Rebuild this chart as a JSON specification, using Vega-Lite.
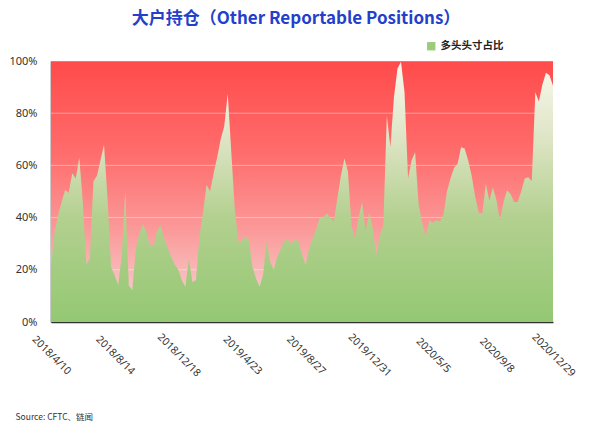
{
  "$schema": "https://vega.github.io/schema/vega-lite/v6.json",
  "width": 502,
  "height": 261,
  "autosize": {"type": "none"},
  "padding": {"left": 51, "top": 61, "right": 47, "bottom": 115},
  "background": "#ffffff",
  "config": {
    "view": {"stroke": null},
    "axis": {"domainColor": "#333333", "domainWidth": 1.5, "ticks": false, "tickSize": 0, "grid": false, "labelColor": "#333333", "labelFont": "Noto Sans"}
  },
  "title": {
    "text": "大户持仓（Other Reportable Positions）",
    "font": "Noto Sans CJK SC",
    "fontSize": 17,
    "fontWeight": "bold",
    "color": "#2440CA",
    "anchor": "middle",
    "offset": 13,
    "dx": -6
  },
  "layer": [
    {
      "data": {"values": [{}]},
      "mark": {
        "type": "rect",
        "fill": {
          "gradient": "linear", "x1": 0, "y1": 0, "x2": 0, "y2": 1,
          "stops": [
            {"offset": 0, "color": "#FF4B4B"},
            {"offset": 0.35, "color": "#FF6C6C"},
            {"offset": 0.65, "color": "#FB9A9A"},
            {"offset": 0.85, "color": "#F8C0C0"},
            {"offset": 1, "color": "#FCE4E4"}
          ]
        }
      },
      "encoding": {
        "y": {"datum": 100, "type": "quantitative", "title": null},
        "y2": {"datum": 0}
      }
    },
    {
      "data": {"values": [{"g": 20}, {"g": 40}, {"g": 60}, {"g": 80}, {"g": 100}]},
      "mark": {"type": "rule", "color": "#ffffff", "opacity": 0.4, "strokeWidth": 1},
      "encoding": {
        "y": {"field": "g", "type": "quantitative", "title": null}
      }
    },
    {
      "data": {
        "values": [
          {"d": "2018/04/10", "v": 21.5}, {"d": "2018/04/17", "v": 34}, {"d": "2018/04/24", "v": 41}, {"d": "2018/05/01", "v": 46},
          {"d": "2018/05/08", "v": 50.6}, {"d": "2018/05/15", "v": 49.5}, {"d": "2018/05/22", "v": 57}, {"d": "2018/05/29", "v": 55},
          {"d": "2018/06/05", "v": 63}, {"d": "2018/06/12", "v": 46}, {"d": "2018/06/19", "v": 22}, {"d": "2018/06/26", "v": 24.5},
          {"d": "2018/07/03", "v": 53.8}, {"d": "2018/07/10", "v": 56}, {"d": "2018/07/17", "v": 62}, {"d": "2018/07/24", "v": 68},
          {"d": "2018/07/31", "v": 47}, {"d": "2018/08/07", "v": 21}, {"d": "2018/08/14", "v": 18}, {"d": "2018/08/21", "v": 14.2},
          {"d": "2018/08/28", "v": 25}, {"d": "2018/09/04", "v": 50}, {"d": "2018/09/11", "v": 14}, {"d": "2018/09/18", "v": 12.3},
          {"d": "2018/09/25", "v": 28}, {"d": "2018/10/02", "v": 34}, {"d": "2018/10/09", "v": 37.5}, {"d": "2018/10/16", "v": 34.6},
          {"d": "2018/10/23", "v": 29.5}, {"d": "2018/10/30", "v": 29}, {"d": "2018/11/06", "v": 35}, {"d": "2018/11/13", "v": 37},
          {"d": "2018/11/20", "v": 32}, {"d": "2018/11/27", "v": 28.5}, {"d": "2018/12/04", "v": 25}, {"d": "2018/12/11", "v": 22},
          {"d": "2018/12/18", "v": 20}, {"d": "2018/12/25", "v": 16}, {"d": "2019/01/01", "v": 13.5}, {"d": "2019/01/08", "v": 24},
          {"d": "2019/01/15", "v": 15.3}, {"d": "2019/01/22", "v": 16}, {"d": "2019/01/29", "v": 33}, {"d": "2019/02/05", "v": 42},
          {"d": "2019/02/12", "v": 52.5}, {"d": "2019/02/19", "v": 50}, {"d": "2019/02/26", "v": 57}, {"d": "2019/03/05", "v": 63},
          {"d": "2019/03/12", "v": 70}, {"d": "2019/03/19", "v": 75}, {"d": "2019/03/26", "v": 87.5}, {"d": "2019/04/02", "v": 65},
          {"d": "2019/04/09", "v": 43}, {"d": "2019/04/16", "v": 31}, {"d": "2019/04/23", "v": 31}, {"d": "2019/04/30", "v": 33},
          {"d": "2019/05/07", "v": 31}, {"d": "2019/05/14", "v": 21}, {"d": "2019/05/21", "v": 16.7}, {"d": "2019/05/28", "v": 13.5},
          {"d": "2019/06/04", "v": 18}, {"d": "2019/06/11", "v": 30.8}, {"d": "2019/06/18", "v": 23}, {"d": "2019/06/25", "v": 20},
          {"d": "2019/07/02", "v": 25}, {"d": "2019/07/09", "v": 28}, {"d": "2019/07/16", "v": 31}, {"d": "2019/07/23", "v": 31.5},
          {"d": "2019/07/30", "v": 30}, {"d": "2019/08/06", "v": 31.5}, {"d": "2019/08/13", "v": 31}, {"d": "2019/08/20", "v": 26},
          {"d": "2019/08/27", "v": 21.8}, {"d": "2019/09/03", "v": 28}, {"d": "2019/09/10", "v": 32}, {"d": "2019/09/17", "v": 35.5},
          {"d": "2019/09/24", "v": 40}, {"d": "2019/10/01", "v": 40}, {"d": "2019/10/08", "v": 41.6}, {"d": "2019/10/15", "v": 40},
          {"d": "2019/10/22", "v": 38.4}, {"d": "2019/10/29", "v": 47.4}, {"d": "2019/11/05", "v": 56}, {"d": "2019/11/12", "v": 62.7},
          {"d": "2019/11/19", "v": 57.6}, {"d": "2019/11/26", "v": 37}, {"d": "2019/12/03", "v": 32}, {"d": "2019/12/10", "v": 40},
          {"d": "2019/12/17", "v": 46}, {"d": "2019/12/24", "v": 35}, {"d": "2019/12/31", "v": 42}, {"d": "2020/01/07", "v": 36},
          {"d": "2020/01/14", "v": 25.7}, {"d": "2020/01/21", "v": 33}, {"d": "2020/01/28", "v": 37}, {"d": "2020/02/04", "v": 79},
          {"d": "2020/02/11", "v": 67}, {"d": "2020/02/18", "v": 86}, {"d": "2020/02/25", "v": 97}, {"d": "2020/03/03", "v": 99.7},
          {"d": "2020/03/10", "v": 88}, {"d": "2020/03/17", "v": 55}, {"d": "2020/03/24", "v": 62}, {"d": "2020/03/31", "v": 65},
          {"d": "2020/04/07", "v": 45}, {"d": "2020/04/14", "v": 38}, {"d": "2020/04/21", "v": 32.7}, {"d": "2020/04/28", "v": 39},
          {"d": "2020/05/05", "v": 38}, {"d": "2020/05/12", "v": 39}, {"d": "2020/05/19", "v": 38.6}, {"d": "2020/05/26", "v": 41},
          {"d": "2020/06/02", "v": 50}, {"d": "2020/06/09", "v": 55}, {"d": "2020/06/16", "v": 59}, {"d": "2020/06/23", "v": 60.5},
          {"d": "2020/06/30", "v": 67}, {"d": "2020/07/07", "v": 66.5}, {"d": "2020/07/14", "v": 62}, {"d": "2020/07/21", "v": 56},
          {"d": "2020/07/28", "v": 48}, {"d": "2020/08/04", "v": 42}, {"d": "2020/08/11", "v": 41.5}, {"d": "2020/08/18", "v": 53},
          {"d": "2020/08/25", "v": 46.5}, {"d": "2020/09/01", "v": 51.5}, {"d": "2020/09/08", "v": 46.7}, {"d": "2020/09/15", "v": 39},
          {"d": "2020/09/22", "v": 46}, {"d": "2020/09/29", "v": 50.5}, {"d": "2020/10/06", "v": 49}, {"d": "2020/10/13", "v": 46},
          {"d": "2020/10/20", "v": 46}, {"d": "2020/10/27", "v": 50}, {"d": "2020/11/03", "v": 55}, {"d": "2020/11/10", "v": 55.5},
          {"d": "2020/11/17", "v": 54}, {"d": "2020/11/24", "v": 88}, {"d": "2020/12/01", "v": 84.5}, {"d": "2020/12/08", "v": 91},
          {"d": "2020/12/15", "v": 95.5}, {"d": "2020/12/22", "v": 94.5}, {"d": "2020/12/29", "v": 90.5}
        ]
      },
      "mark": {
        "type": "area",
        "line": false,
        "interpolate": "linear",
        "fill": {
          "gradient": "linear", "x1": 0, "y1": 0, "x2": 0, "y2": 1,
          "stops": [
            {"offset": 0, "color": "#FBF9EE"},
            {"offset": 0.3, "color": "#DDE4C4"},
            {"offset": 0.6, "color": "#B3D08F"},
            {"offset": 1, "color": "#94C873"}
          ]
        }
      },
      "encoding": {
        "x": {
          "field": "d",
          "type": "temporal",
          "scale": {"nice": false},
          "axis": {
            "values": [
              {"year": 2018, "month": 4, "date": 10}, {"year": 2018, "month": 8, "date": 14}, {"year": 2018, "month": 12, "date": 18},
              {"year": 2019, "month": 4, "date": 23}, {"year": 2019, "month": 8, "date": 27}, {"year": 2019, "month": 12, "date": 31},
              {"year": 2020, "month": 5, "date": 5}, {"year": 2020, "month": 9, "date": 8}, {"year": 2020, "month": 12, "date": 29}
            ],
            "format": "%Y/%-m/%-d",
            "labelAngle": 45,
            "labelAlign": "center",
            "labelBaseline": "middle",
            "labelPadding": 33,
            "labelFlush": false,
            "labelOverlap": false,
            "labelFontSize": 10.5,
            "title": "Source: CFTC、链闻",
            "titleFont": "Noto Sans CJK SC",
            "titleFontSize": 8.5,
            "titleFontWeight": "normal",
            "titleColor": "#333333",
            "titleAnchor": "start",
            "titleAlign": "left",
            "titleBaseline": "middle",
            "titleX": -36,
            "titleY": 94
          }
        },
        "y": {
          "field": "v",
          "type": "quantitative",
          "title": null,
          "scale": {"domain": [0, 100], "nice": false},
          "axis": {
            "values": [0, 20, 40, 60, 80, 100],
            "labelExpr": "datum.value + '%'",
            "labelFontSize": 11,
            "labelPadding": 14
          }
        }
      }
    },
    {
      "data": {"values": [{}]},
      "mark": {"type": "square", "opacity": 0},
      "encoding": {
        "color": {
          "datum": "多头头寸占比",
          "type": "nominal",
          "scale": {"range": ["#9BCB7B"]},
          "legend": {
            "title": null,
            "orient": "none",
            "legendX": 375,
            "legendY": -20,
            "symbolType": "square",
            "symbolSize": 70,
            "symbolOpacity": 1,
            "symbolStrokeWidth": 0,
            "labelFont": "Noto Sans CJK SC",
            "labelFontSize": 10.5,
            "labelFontWeight": "bold",
            "labelColor": "#222222",
            "padding": 0
          }
        }
      }
    }
  ]
}
